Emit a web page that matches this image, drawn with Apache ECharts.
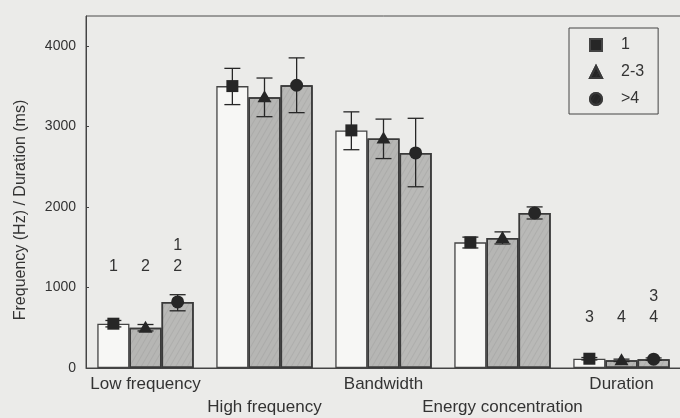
<!DOCTYPE html>
<html>
<head>
<meta charset="UTF-8">
<title>Frequency / Duration</title>
<script src="https://cdn.jsdelivr.net/npm/echarts@6/dist/echarts.min.js"></script>
<style>
	html, body { margin: 0; padding: 0; background: #ebebe9; }
	#main { width: 680px; height: 418px; }
</style>
</head>
<body>
	<div id="main"></div>
	<script>
	// categories and groups
	var categories = [ 'Low frequency', 'High frequency', 'Bandwidth', 'Energy concentration', 'Duration' ];
	var groupNames = [ '1', '2-3', '>4' ];

	// means
	var mean1 = [ 550, 3500, 2950, 1560, 115 ];
	var mean2 = [ 500, 3360, 2850, 1615, 95 ];
	var mean3 = [ 820, 3510, 2670, 1925, 110 ];

	// error bar low / high
	var low1 = [ 510, 3270, 2710, 1490, 100 ];
	var high1 = [ 590, 3720, 3180, 1625, 130 ];
	var low2 = [ 460, 3120, 2600, 1540, 80 ];
	var high2 = [ 540, 3600, 3090, 1690, 110 ];
	var low3 = [ 710, 3170, 2250, 1850, 95 ];
	var high3 = [ 910, 3850, 3100, 2000, 125 ];

	// significance notes above bars, and the level of their lowest line
	var notes1 = [ '1', '', '', '', '3' ];
	var notes2 = [ '2', '', '', '', '4' ];
	var notes3 = [ '1\n2', '', '', '', '3\n4' ];
	var noteLevel = [ 1255, null, null, null, 621 ];

	var yTicks = [ 0, 1000, 2000, 3000, 4000 ];

	var means = [ mean1, mean2, mean3 ];
	var lows = [ low1, low2, low3 ];
	var highs = [ high1, high2, high3 ];
	var notes = [ notes1, notes2, notes3 ];
	var markers = [ 'rect', 'triangle', 'circle' ];
	var BAR_RATIO = 0.27;
	var INK = '#262626';

	function drawMarker(kind, x, y) {
	    if (kind == 'rect') {
		return { type : 'rect', shape : { x : x - 6, y : y - 6, width : 12, height : 12 }, style : { fill : INK } };
	    }
	    if (kind == 'triangle') {
		return { type : 'polygon', shape : { points : [ [ x, y - 7 ], [ x - 7, y + 5 ], [ x + 7, y + 5 ] ] }, style : { fill : INK } };
	    }
	    return { type : 'circle', shape : { cx : x, cy : y, r : 6.5 }, style : { fill : INK } };
	}

	function makeRender(k) {
	    return function(params, api) {
		var cat = api.value(0);
		var band = api.size([ 1, 0 ])[0];
		var dx = (k - 1) * band * BAR_RATIO;
		var pm = api.coord([ cat, api.value(1) ]);
		var pl = api.coord([ cat, api.value(2) ]);
		var ph = api.coord([ cat, api.value(3) ]);
		var x = pm[0] + dx;
		var capW = 8;
		var line = { stroke : INK, lineWidth : 1.3 };
		var children = [
		    { type : 'line', shape : { x1 : x, y1 : pl[1], x2 : x, y2 : ph[1] }, style : line },
		    { type : 'line', shape : { x1 : x - capW, y1 : pl[1], x2 : x + capW, y2 : pl[1] }, style : line },
		    { type : 'line', shape : { x1 : x - capW, y1 : ph[1], x2 : x + capW, y2 : ph[1] }, style : line },
		    drawMarker(markers[k], x, pm[1])
		];
		var note = notes[k][cat];
		if (note && noteLevel[cat] != null) {
		    var base = api.coord([ cat, noteLevel[cat] ])[1];
		    var lines = note.split('\n').reverse();
		    for (var i = 0; i < lines.length; i++) {
			children.push({
			    type : 'text',
			    style : {
				text : lines[i], x : x, y : base - i * 21,
				align : 'center', verticalAlign : 'middle',
				fill : '#333', font : '16px "Liberation Sans", Arial, sans-serif'
			    }
			});
		    }
		}
		return { type : 'group', children : children };
	    };
	}

	var hatch = {
	    symbol : 'rect', symbolSize : 1,
	    dashArrayX : [ 1, 0 ], dashArrayY : [ 1, 4 ],
	    rotation : -Math.PI / 3,
	    color : 'rgba(90, 90, 90, 0.12)'
	};
	var barStyles = [
	    { color : '#f7f7f5', borderColor : '#444', borderWidth : 1.3 },
	    { color : '#b6b6b4', borderColor : '#3a3a3a', borderWidth : 1.5, decal : hatch },
	    { color : '#b9b9b7', borderColor : '#3a3a3a', borderWidth : 1.5, decal : hatch }
	];

	var series = [];
	for (var k = 0; k < 3; k++) {
	    series.push({
		name : groupNames[k],
		type : 'bar',
		data : means[k],
		barWidth : (BAR_RATIO * 100) + '%',
		barGap : '0%',
		itemStyle : barStyles[k],
		emphasis : { disabled : true },
		z : 2
	    });
	}
	for (var k = 0; k < 3; k++) {
	    var d = [];
	    for (var c = 0; c < categories.length; c++) {
		d.push([ c, means[k][c], lows[k][c], highs[k][c] ]);
	    }
	    series.push({
		name : groupNames[k],
		type : 'custom',
		renderItem : makeRender(k),
		data : d,
		z : 5,
		silent : true
	    });
	}

	var chart = echarts.init(document.getElementById('main'));
	var font = '"Liberation Sans", Arial, sans-serif';
	var option = {
	    backgroundColor : '#ebebe9',
	    animation : false,
	    textStyle : { fontFamily : font, color : '#333' },
	    grid : {
		left : 86, top : 16, width : 595, bottom : 50,
		outerBoundsMode : 'none', containLabel : false,
		show : true, borderColor : '#4a4a4a', borderWidth : 1
	    },
	    legend : {
		orient : 'vertical',
		left : 569, top : 28,
		itemWidth : 12, itemHeight : 12, itemGap : 11,
		padding : [ 9, 14, 7, 20 ],
		borderColor : '#444', borderWidth : 1,
		textStyle : { fontSize : 16, color : '#333', padding : [ 0, 0, 0, 14 ] },
		data : [
		    { name : groupNames[0], icon : 'rect', itemStyle : { color : INK } },
		    { name : groupNames[1], icon : 'triangle', itemStyle : { color : INK } },
		    { name : groupNames[2], icon : 'circle', itemStyle : { color : INK } }
		]
	    },
	    xAxis : {
		type : 'category',
		data : categories,
		axisLine : { lineStyle : { color : '#444' } },
		axisTick : { show : false },
		axisLabel : {
		    interval : 0, margin : 5, fontSize : 17, lineHeight : 23, color : '#333',
		    formatter : function(v, i) {
			return i % 2 ? '\n' + v : v;
		    }
		}
	    },
	    yAxis : {
		type : 'value',
		min : yTicks[0], max : 4370, interval : yTicks[1] - yTicks[0],
		name : 'Frequency (Hz) / Duration (ms)',
		nameLocation : 'middle', nameGap : 57,
		nameTextStyle : { fontSize : 16, color : '#333', padding : [ 0, 36, 0, 0 ] },
		axisLine : { show : true, lineStyle : { color : '#444' } },
		axisTick : { show : true, inside : true, length : 3, lineStyle : { color : '#444' } },
		splitLine : { show : false },
		axisLabel : {
		    margin : 10, fontSize : 14, color : '#333', showMaxLabel : false,
		    formatter : function(v) {
			return String(v);
		    }
		}
	    },
	    series : series
	};
	chart.setOption(option);
	</script>
</body>
</html>
